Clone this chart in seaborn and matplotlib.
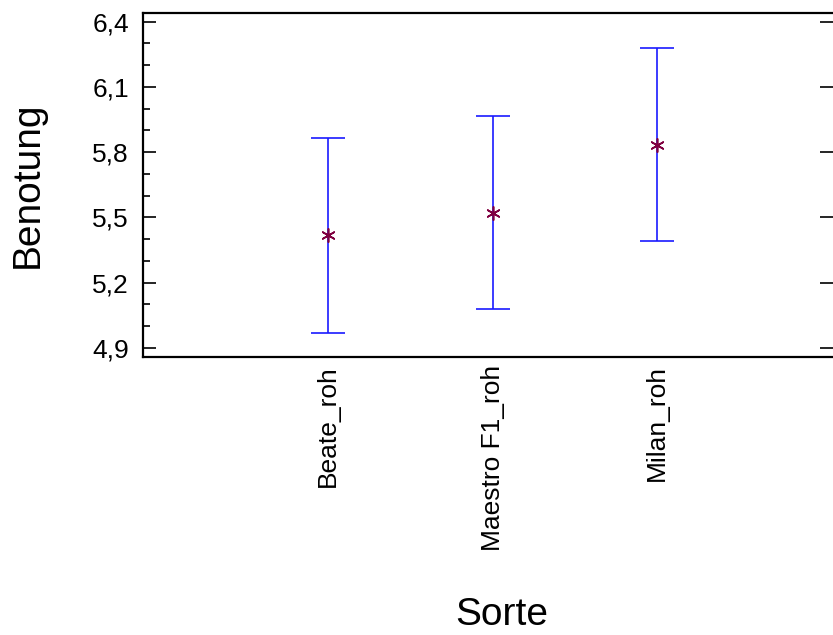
import numpy as np
import pandas as pd
import matplotlib
matplotlib.use('Agg')
import matplotlib.pyplot as plt
from matplotlib.ticker import MultipleLocator, FuncFormatter
import seaborn as sns

# Werte
sorten = ['Beate_roh', 'Maestro F1_roh', 'Milan_roh']
mittel = [5.418, 5.521, 5.834]
untere = [4.967, 5.077, 5.389]
obere = [5.863, 5.966, 6.280]
yticks = [4.9, 5.2, 5.5, 5.8, 6.1, 6.4]

sns.set_style('ticks', rc={'text.color': 'black', 'axes.labelcolor': 'black',
                           'xtick.color': 'black', 'ytick.color': 'black',
                           'axes.edgecolor': 'black'})
plt.rcParams['font.family'] = ['Liberation Sans', 'DejaVu Sans']

df = pd.DataFrame({'Sorte': sorten, 'Benotung': mittel})

fig = plt.figure(figsize=(8.33, 6.35), dpi=100)
ax = fig.add_axes([0.1713, 0.4383, 0.8287, 0.5413])

# Intervalle
pos = np.arange(len(sorten))
err = [np.array(mittel) - np.array(untere), np.array(obere) - np.array(mittel)]
ax.errorbar(pos, mittel, yerr=err, fmt='none', ecolor='#1a1aff',
            elinewidth=1.2, capsize=11.9, capthick=1.2, zorder=2)

# Mittelwerte
sns.scatterplot(data=df, x='Sorte', y='Benotung', marker=(6, 2, 0),
                color='#800040', s=90, linewidth=1.2, ax=ax, zorder=3)

ax.set_xlim(-1.1226, 3.066)
ax.set_ylim(4.859, 6.44)

ax.set_yticks(yticks)
ax.yaxis.set_minor_locator(MultipleLocator(0.1))
ax.yaxis.set_major_formatter(FuncFormatter(lambda v, p: f'{v:.1f}'.replace('.', ',')))

for s in ['top', 'bottom', 'left']:
    ax.spines[s].set_linewidth(1.6)
ax.spines['right'].set_visible(False)

ax.tick_params(axis='y', which='major', direction='in', length=9.4, width=1.2,
               left=True, right=True, labelsize=19, pad=10)
ax.tick_params(axis='y', which='minor', direction='in', length=5, width=1.2,
               left=True, right=False)
ax.tick_params(axis='x', length=0, labelsize=19, rotation=90, pad=6)

ax.set_xlabel('Sorte', fontsize=28)
ax.set_ylabel('Benotung', fontsize=28)
ax.xaxis.set_label_coords(0.5205, -0.7515)
ax.xaxis.label.set_va('center')
ax.yaxis.set_label_coords(-0.166, 0.5)
ax.yaxis.label.set_va('center')

fig.savefig('out.png', dpi=100)
